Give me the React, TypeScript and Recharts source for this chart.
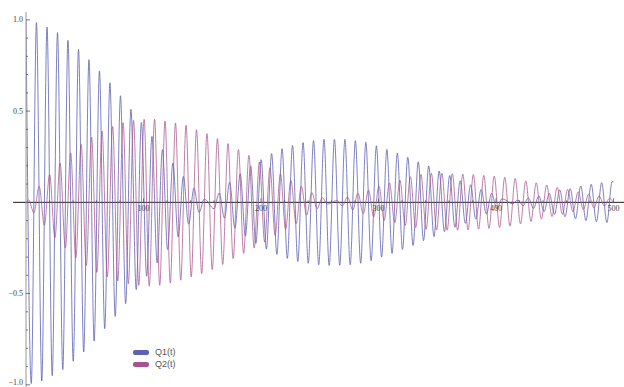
import React from 'react';
import { LineChart, Line, XAxis, YAxis, ReferenceLine, ReferenceDot } from 'recharts';

// extrema (peaks / troughs) of Q1(t)
const q1Times = [
  0, 4.5, 8.9, 13.4, 17.9, 22.3, 26.8, 31.3, 35.7, 40.2, 44.7, 49.1, 53.6, 58.0, 62.5, 67.0, 71.4, 75.9,
  80.4, 84.8, 89.3, 93.8, 98.2, 102.7, 107.2, 111.6, 116.1, 120.5, 125.0, 129.5, 133.9, 138.4, 142.9,
  147.3, 151.7,
  160.0, 164.4, 168.9, 173.3, 177.8, 182.3, 186.7, 191.2, 195.6, 200.1, 204.6, 209.0, 213.5, 217.9,
  222.4, 226.8, 231.3, 235.8, 240.2, 244.7, 249.1, 253.6, 258.0, 262.5, 267.0, 271.4, 275.9, 280.3,
  284.8, 289.2, 293.7, 298.2, 302.6, 307.1, 311.5, 316.0, 320.4, 324.9, 329.4, 333.8, 338.3, 342.7,
  347.2, 351.6, 356.1, 360.6, 365.0, 369.5, 373.9, 378.4, 382.8, 387.3, 391.8, 396.2, 400.7, 405.1,
  414.1, 418.6, 423.0, 427.5, 431.9, 436.4, 440.9, 445.3, 449.8, 454.2, 458.7, 463.1, 467.6, 472.1,
  476.5, 481.0, 485.4, 489.9, 494.3, 498.8, 500,
];
const q1Values = [
  1.0, -0.993, 0.985, -0.979, 0.96, -0.95, 0.93, -0.917, 0.888, -0.871, 0.838, -0.82, 0.782, -0.76,
  0.72, -0.692, 0.655, -0.625, 0.584, -0.555, 0.51, -0.478, 0.437, -0.405, 0.362, -0.332, 0.289,
  -0.259, 0.215, -0.19, 0.142, -0.12, 0.078, -0.056, 0.018,
  -0.035, 0.051, -0.086, 0.11, -0.142, 0.157, -0.185, 0.2, -0.225, 0.234, -0.256, 0.267, -0.285, 0.294,
  -0.307, 0.312, -0.325, 0.327, -0.334, 0.338, -0.342, 0.345, -0.346, 0.345, -0.345, 0.345, -0.342,
  0.338, -0.334, 0.329, -0.32, 0.31, -0.3, 0.29, -0.28, 0.27, -0.258, 0.247, -0.237, 0.222, -0.21,
  0.199, -0.188, 0.172, -0.161, 0.147, -0.137, 0.118, -0.115, 0.096, -0.092, 0.071, -0.064, 0.049,
  -0.035, 0.02,
  -0.008, 0.012, -0.018, 0.024, -0.033, 0.035, -0.051, 0.049, -0.066, 0.068, -0.079, 0.076, -0.09,
  0.09, -0.1, 0.099, -0.107, 0.108, -0.111, 0.114, 0.112,
];

// extrema of Q2(t)
const q2Times = [
  0, 2.3, 6.7, 11.2, 15.6, 20.1, 24.6, 29.0, 33.5, 38.0, 42.4, 46.9, 51.3, 55.8, 60.3, 64.7, 69.2,
  73.7, 78.1, 82.6, 87.1, 91.5, 96.0, 100.5, 104.9, 109.4, 113.8, 118.3, 122.8, 127.2, 131.7, 136.2,
  140.6, 145.1, 149.5, 154.0, 158.5, 162.9, 167.4, 171.9, 176.3, 180.8, 185.2, 189.7, 194.2, 198.6,
  203.1, 207.6, 212.0, 216.5, 220.9, 225.4, 229.9, 234.3, 238.8, 243.3, 247.7, 252.2, 256.6,
  264.7, 269.2, 273.6, 278.1, 282.5, 287.0, 291.5, 295.9, 300.4, 304.8, 309.3, 313.8, 318.2, 322.7,
  327.1, 331.6, 336.1, 340.5, 345.0, 349.4, 353.9, 358.4, 362.8, 367.3, 371.7, 376.2, 380.7, 385.1,
  389.6, 394.0, 398.5, 403.0, 407.4, 411.9, 416.3, 420.8, 425.3, 429.7, 434.2, 438.6, 443.1, 447.6,
  452.0, 456.5, 460.9, 465.4, 469.9, 474.3, 478.8, 483.2, 487.7, 492.2, 496.6, 500,
];
const q2Values = [
  0, 0.013, -0.058, 0.088, -0.126, 0.153, -0.195, 0.215, -0.25, 0.271, -0.305, 0.318, -0.347, 0.358,
  -0.384, 0.391, -0.409, 0.416, -0.431, 0.437, -0.446, 0.449, -0.455, 0.455, -0.46, 0.455, -0.455,
  0.445, -0.442, 0.435, -0.427, 0.422, -0.409, 0.398, -0.391, 0.376, -0.369, 0.349, -0.341, 0.322,
  -0.309, 0.29, -0.28, 0.258, -0.25, 0.221, -0.218, 0.19, -0.181, 0.157, -0.148, 0.121, -0.117, 0.088,
  -0.07, 0.053, -0.035, 0.025, -0.01,
  0.01, -0.02, 0.03, -0.042, 0.05, -0.062, 0.067, -0.08, 0.089, -0.1, 0.107, -0.112, 0.122, -0.127,
  0.14, -0.138, 0.153, -0.148, 0.159, -0.152, 0.159, -0.153, 0.157, -0.153, 0.155, -0.151, 0.152,
  -0.147, 0.148, -0.143, 0.144, -0.138, 0.137, -0.13, 0.131, -0.118, 0.118, -0.105, 0.107, -0.092,
  0.095, -0.078, 0.082, -0.065, 0.071, -0.052, 0.058, -0.04, 0.045, -0.03, 0.035, -0.02, 0.022, -0.005,
];

const xMajorTicks = [100, 200, 300, 400, 500];
const xMinorTicks = [
  20, 40, 60, 80, 120, 140, 160, 180, 220, 240, 260, 280, 320, 340, 360, 380, 420, 440, 460, 480,
];
const yTicks = [
  -1, -0.9, -0.8, -0.7, -0.6, -0.5, -0.4, -0.3, -0.2, -0.1, 0.1, 0.2, 0.3, 0.4, 0.5, 0.6, 0.7, 0.8, 0.9, 1,
];
const yTickLabels: Record<string, string> = { '1': '1.0', '0.5': '0.5', '-0.5': '\u22120.5', '-1': '\u22121.0' };

const q1Data = q1Times.map((t, i) => ({ t, v: q1Values[i] }));
const q2Data = q2Times.map((t, i) => ({ t, v: q2Values[i] }));

const Q1_COLOR = '#5f61b3';
const Q2_COLOR = '#a8548b';
const TICK_FONT = '"Liberation Serif", "DejaVu Serif", serif';

const YTick = (props: any) => {
  const { x, y, payload } = props;
  const label = yTickLabels[String(payload.value)];
  // keep the bottom label inside the picture
  const ly = Math.min(y, 382);
  return (
    <g>
      <line x1={x} x2={x + (label ? 4 : 2)} y1={y} y2={y} stroke="#555" strokeWidth={0.8} />
      {label && (
        <text x={x - 3} y={ly} dy="0.33em" textAnchor="end" fontSize={8} fill="#444" fontFamily={TICK_FONT}>
          {label}
        </text>
      )}
    </g>
  );
};

const App = () => {
  return (
    <div style={{ position: 'absolute', left: 0, top: 0, width: 624, height: 387, background: '#fff' }}>
      <LineChart width={624} height={387} margin={{ top: 12, right: 0, bottom: 0, left: 0 }}>
        <XAxis type="number" dataKey="t" domain={[0, 508.9]} hide allowDataOverflow />
        <YAxis
          type="number"
          domain={[-1.012, 1.043]}
          ticks={yTicks}
          interval={0}
          width={26}
          tickSize={0}
          tickMargin={0}
          tickLine={false}
          axisLine={{ stroke: '#999' }}
          tick={<YTick />}
          allowDataOverflow
        />
        <ReferenceLine
          segment={[{ x: -11, y: 0 }, { x: 508.9, y: 0 }]}
          stroke="#1a1a1a"
          strokeWidth={1}
          ifOverflow="visible"
        />
        {xMinorTicks.map((t) => (
          <ReferenceDot
            key={'m' + t}
            x={t}
            y={0}
            r={0}
            ifOverflow="visible"
            shape={(p: any) => (
              <line x1={p.cx} x2={p.cx} y1={p.cy} y2={p.cy - 2} stroke="#555" strokeWidth={0.8} />
            )}
          />
        ))}
        {xMajorTicks.map((t) => (
          <ReferenceDot
            key={'M' + t}
            x={t}
            y={0}
            r={0}
            ifOverflow="visible"
            shape={(p: any) => (
              <g>
                <line x1={p.cx} x2={p.cx} y1={p.cy} y2={p.cy - 4} stroke="#555" strokeWidth={0.8} />
                <text x={p.cx} y={p.cy + 9} textAnchor="middle" fontSize={8} fill="#444" fontFamily={TICK_FONT}>
                  {t}
                </text>
              </g>
            )}
          />
        ))}
        <Line
          data={q1Data}
          dataKey="v"
          name="Q1(t)"
          type="monotone"
          stroke={Q1_COLOR}
          strokeWidth={1}
          strokeOpacity={0.8}
          dot={false}
          activeDot={false}
          isAnimationActive={false}
        />
        <Line
          data={q2Data}
          dataKey="v"
          name="Q2(t)"
          type="monotone"
          stroke={Q2_COLOR}
          strokeWidth={1}
          strokeOpacity={0.75}
          dot={false}
          activeDot={false}
          isAnimationActive={false}
        />
      </LineChart>
      <div
        style={{
          position: 'absolute',
          left: 133,
          top: 347,
          fontFamily: '"Liberation Sans", Arial, sans-serif',
          fontSize: 9,
          color: '#555',
          lineHeight: '11.5px',
        }}
      >
        {[
          { name: 'Q1(t)', color: Q1_COLOR },
          { name: 'Q2(t)', color: Q2_COLOR },
        ].map((item) => (
          <div key={item.name} style={{ display: 'flex', alignItems: 'center' }}>
            <span
              style={{
                display: 'inline-block',
                width: 16,
                height: 5,
                borderRadius: 2,
                background: item.color,
                marginRight: 6,
              }}
            />
            <span>{item.name}</span>
          </div>
        ))}
      </div>
    </div>
  );
};

export default App;
